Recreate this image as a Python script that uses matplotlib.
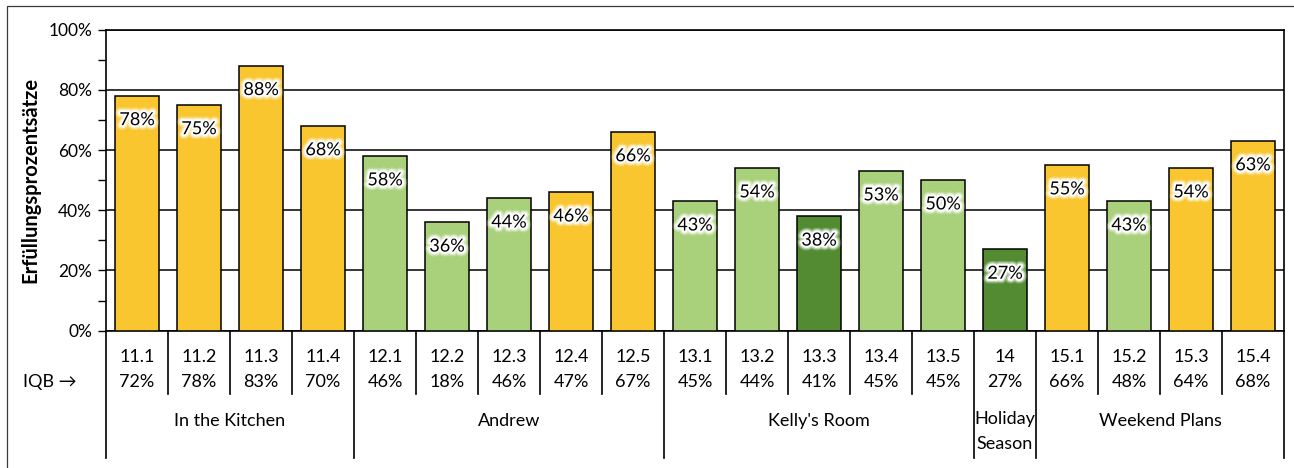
import matplotlib
matplotlib.use("Agg")
import matplotlib.pyplot as plt
import matplotlib.patheffects as pe
from matplotlib.patches import Rectangle
from matplotlib.ticker import MultipleLocator, PercentFormatter

plt.rcParams["font.family"] = ["Lato", "DejaVu Sans"]

# Aufgaben, Erfüllungsprozentsätze und IQB-Vergleichswerte
tasks = ["11.1", "11.2", "11.3", "11.4",
         "12.1", "12.2", "12.3", "12.4", "12.5",
         "13.1", "13.2", "13.3", "13.4", "13.5",
         "14",
         "15.1", "15.2", "15.3", "15.4"]
scores = [78, 75, 88, 68, 58, 36, 44, 46, 66, 43, 54, 38, 53, 50, 27, 55, 43, 54, 63]
iqb = [72, 78, 83, 70, 46, 18, 46, 47, 67, 45, 44, 41, 45, 45, 27, 66, 48, 64, 68]
# colour class per task: y = gelb, g = hellgrün, d = dunkelgrün
klasse = ["y", "y", "y", "y", "g", "g", "g", "y", "y",
          "g", "g", "d", "g", "g", "d", "y", "g", "y", "y"]
groups = ["In the Kitchen", "Andrew", "Kelly's Room", "Holiday\nSeason", "Weekend Plans"]
group_sizes = [4, 5, 5, 1, 4]

farben = {"y": "#F9C62F", "g": "#A9D07B", "d": "#528B32"}

W, H = 1294, 468
fig = plt.figure(figsize=(W / 100, H / 100), dpi=100)
ax = fig.add_axes([106 / W, 1 - 330.7 / H, (1284 - 106) / W, (330.7 - 29.6) / H])

x = list(range(len(tasks)))
ax.bar(x, scores, width=0.71, color=[farben[k] for k in klasse],
       edgecolor="black", linewidth=1.1, zorder=3)

ax.set_xlim(-0.5, len(tasks) - 0.5)
ax.set_ylim(0, 100)
ax.yaxis.set_major_locator(MultipleLocator(20))
ax.yaxis.set_minor_locator(MultipleLocator(10))
ax.yaxis.set_major_formatter(PercentFormatter(decimals=0))
ax.tick_params(axis="y", which="both", direction="out", length=6, width=1,
               labelsize=12.5, pad=4)
ax.set_xticks([])
ax.grid(axis="y", which="major", color="black", linewidth=1.1, zorder=0)
for s in ax.spines.values():
    s.set_color("black")
    s.set_linewidth(1.2)

# Werte in den Balken, mit weichem weißem Schein
glow = [pe.withStroke(linewidth=7, foreground="white", alpha=0.25),
        pe.withStroke(linewidth=5, foreground="white", alpha=0.5),
        pe.withStroke(linewidth=3, foreground="white", alpha=1.0)]
for xi, v in zip(x, scores):
    ax.annotate(f"{v}%", (xi, v), xytext=(0, -17.5), textcoords="offset points",
                ha="center", va="center", fontsize=13, zorder=5,
                path_effects=glow)

# Tabelle unter der Achse
tr = ax.get_xaxis_transform()
for xi, t, q in zip(x, tasks, iqb):
    ax.text(xi, -0.087, t, transform=tr, ha="center", va="center", fontsize=13)
    ax.text(xi, -0.17, f"{q}%", transform=tr, ha="center", va="center", fontsize=13)

grenzen = [-0.5]
for n in group_sizes:
    grenzen.append(grenzen[-1] + n)
for b in range(len(tasks) + 1):
    pos = b - 0.5
    unten = -0.423 if pos in grenzen else -0.21
    ax.plot([pos, pos], [0, unten], transform=tr, color="black",
            linewidth=1.2, clip_on=False)
for name, a, b in zip(groups, grenzen[:-1], grenzen[1:]):
    zweizeilig = "\n" in name
    ax.text((a + b) / 2, -0.335 if zweizeilig else -0.30, name,
            transform=tr, ha="center", va="center", fontsize=13,
            linespacing=1.65 if zweizeilig else 1.2)

fig.text(50 / W, 1 - 382 / H, "IQB →", ha="center", va="center", fontsize=13)
fig.text(30 / W, 1 - 180 / H, "Erfüllungsprozentsätze", rotation=90,
         ha="center", va="center", fontsize=14.5, fontweight="bold")

fig.patches.append(Rectangle((6.5 / W, -0.1), 1.2, 1.1 - 6.5 / H,
                             transform=fig.transFigure, fill=False,
                             edgecolor="#3a3a3a", linewidth=0.9))

fig.savefig("out.png", dpi=100)
